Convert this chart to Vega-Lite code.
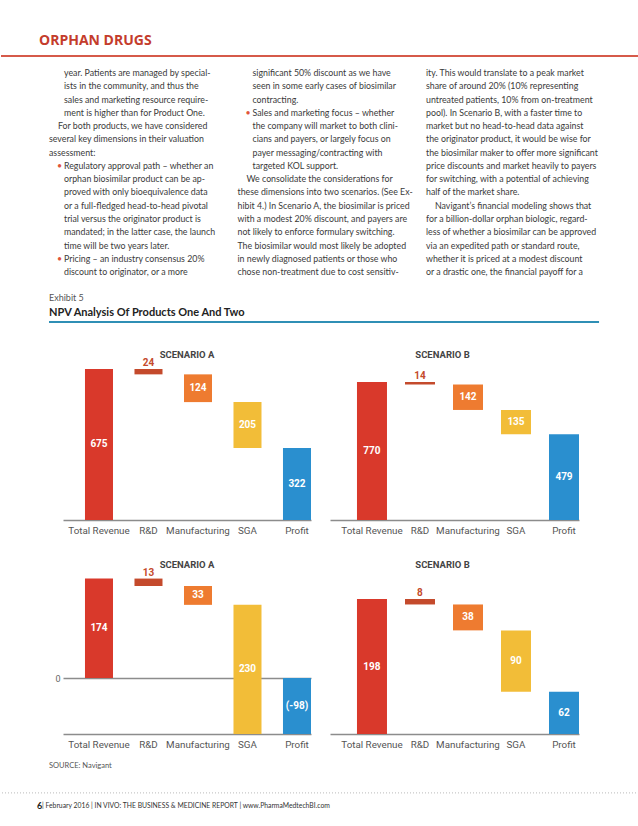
{
  "$schema": "https://vega.github.io/schema/vega-lite/v6.json",
  "padding": 0,
  "background": "white",
  "spacing": 0,
  "config": {
    "view": {"stroke": null},
    "axisX": {"title": null, "ticks": false, "domainColor": "#8c8c8c", "domainWidth": 1.5, "labelColor": "#555555", "labelFont": "Roboto", "labelFontSize": 9.8, "labelPadding": 5, "labelAngle": 0, "grid": false, "offset": -18}
  },
  "datasets": {
    "body": [
      {"c": 0, "l": 1, "k": "b", "u": 0, "t": "year. Patients are managed by special-"},
      {"c": 0, "l": 2, "k": "b", "u": 0, "t": "ists in the community, and thus the"},
      {"c": 0, "l": 3, "k": "b", "u": 0, "t": "sales and marketing resource require-"},
      {"c": 0, "l": 4, "k": "b", "u": 0, "t": "ment is higher than for Product One."},
      {"c": 0, "l": 5, "k": "p", "u": 0, "t": "For both products, we have considered"},
      {"c": 0, "l": 6, "k": "n", "u": 0, "t": "several key dimensions in their valuation"},
      {"c": 0, "l": 7, "k": "n", "u": 0, "t": "assessment:"},
      {"c": 0, "l": 8, "k": "b", "u": 1, "t": "Regulatory approval path – whether an"},
      {"c": 0, "l": 9, "k": "b", "u": 0, "t": "orphan biosimilar product can be ap-"},
      {"c": 0, "l": 10, "k": "b", "u": 0, "t": "proved with only bioequivalence data"},
      {"c": 0, "l": 11, "k": "b", "u": 0, "t": "or a full-fledged head-to-head pivotal"},
      {"c": 0, "l": 12, "k": "b", "u": 0, "t": "trial versus the originator product is"},
      {"c": 0, "l": 13, "k": "b", "u": 0, "t": "mandated; in the latter case, the launch"},
      {"c": 0, "l": 14, "k": "b", "u": 0, "t": "time will be two years later."},
      {"c": 0, "l": 15, "k": "b", "u": 1, "t": "Pricing – an industry consensus 20%"},
      {"c": 0, "l": 16, "k": "b", "u": 0, "t": "discount to originator, or a more"},
      {"c": 1, "l": 1, "k": "b", "u": 0, "t": "significant 50% discount as we have"},
      {"c": 1, "l": 2, "k": "b", "u": 0, "t": "seen in some early cases of biosimilar"},
      {"c": 1, "l": 3, "k": "b", "u": 0, "t": "contracting."},
      {"c": 1, "l": 4, "k": "b", "u": 1, "t": "Sales and marketing focus – whether"},
      {"c": 1, "l": 5, "k": "b", "u": 0, "t": "the company will market to both clini-"},
      {"c": 1, "l": 6, "k": "b", "u": 0, "t": "cians and payers, or largely focus on"},
      {"c": 1, "l": 7, "k": "b", "u": 0, "t": "payer messaging/contracting with"},
      {"c": 1, "l": 8, "k": "b", "u": 0, "t": "targeted KOL support."},
      {"c": 1, "l": 9, "k": "p", "u": 0, "t": "We consolidate the considerations for"},
      {"c": 1, "l": 10, "k": "n", "u": 0, "t": "these dimensions into two scenarios. (See Ex-"},
      {"c": 1, "l": 11, "k": "n", "u": 0, "t": "hibit 4.) In Scenario A, the biosimilar is priced"},
      {"c": 1, "l": 12, "k": "n", "u": 0, "t": "with a modest 20% discount, and payers are"},
      {"c": 1, "l": 13, "k": "n", "u": 0, "t": "not likely to enforce formulary switching."},
      {"c": 1, "l": 14, "k": "n", "u": 0, "t": "The biosimilar would most likely be adopted"},
      {"c": 1, "l": 15, "k": "n", "u": 0, "t": "in newly diagnosed patients or those who"},
      {"c": 1, "l": 16, "k": "n", "u": 0, "t": "chose non-treatment due to cost sensitiv-"},
      {"c": 2, "l": 1, "k": "n", "u": 0, "t": "ity. This would translate to a peak market"},
      {"c": 2, "l": 2, "k": "n", "u": 0, "t": "share of around 20% (10% representing"},
      {"c": 2, "l": 3, "k": "n", "u": 0, "t": "untreated patients, 10% from on-treatment"},
      {"c": 2, "l": 4, "k": "n", "u": 0, "t": "pool). In Scenario B, with a faster time to"},
      {"c": 2, "l": 5, "k": "n", "u": 0, "t": "market but no head-to-head data against"},
      {"c": 2, "l": 6, "k": "n", "u": 0, "t": "the originator product, it would be wise for"},
      {"c": 2, "l": 7, "k": "n", "u": 0, "t": "the biosimilar maker to offer more significant"},
      {"c": 2, "l": 8, "k": "n", "u": 0, "t": "price discounts and market heavily to payers"},
      {"c": 2, "l": 9, "k": "n", "u": 0, "t": "for switching, with a potential of achieving"},
      {"c": 2, "l": 10, "k": "n", "u": 0, "t": "half of the market share."},
      {"c": 2, "l": 11, "k": "p", "u": 0, "t": "Navigant’s financial modeling shows that"},
      {"c": 2, "l": 12, "k": "n", "u": 0, "t": "for a billion-dollar orphan biologic, regard-"},
      {"c": 2, "l": 13, "k": "n", "u": 0, "t": "less of whether a biosimilar can be approved"},
      {"c": 2, "l": 14, "k": "n", "u": 0, "t": "via an expedited path or standard route,"},
      {"c": 2, "l": 15, "k": "n", "u": 0, "t": "whether it is priced at a modest discount"},
      {"c": 2, "l": 16, "k": "n", "u": 0, "t": "or a drastic one, the financial payoff for a"}
    ],
    "bars": [
      {"p": "1A", "cat": "Total Revenue", "lab": "675", "lo": 0, "hi": 675},
      {"p": "1A", "cat": "R&D", "lab": "24", "lo": 651, "hi": 675},
      {"p": "1A", "cat": "Manufacturing", "lab": "124", "lo": 527, "hi": 651},
      {"p": "1A", "cat": "SGA", "lab": "205", "lo": 322, "hi": 527},
      {"p": "1A", "cat": "Profit", "lab": "322", "lo": 0, "hi": 322},
      {"p": "1B", "cat": "Total Revenue", "lab": "770", "lo": 0, "hi": 770},
      {"p": "1B", "cat": "R&D", "lab": "14", "lo": 756, "hi": 770},
      {"p": "1B", "cat": "Manufacturing", "lab": "142", "lo": 614, "hi": 756},
      {"p": "1B", "cat": "SGA", "lab": "135", "lo": 479, "hi": 614},
      {"p": "1B", "cat": "Profit", "lab": "479", "lo": 0, "hi": 479},
      {"p": "2A", "cat": "Total Revenue", "lab": "174", "lo": 0, "hi": 174},
      {"p": "2A", "cat": "R&D", "lab": "13", "lo": 161, "hi": 174},
      {"p": "2A", "cat": "Manufacturing", "lab": "33", "lo": 128, "hi": 161},
      {"p": "2A", "cat": "SGA", "lab": "230", "lo": -98, "hi": 128},
      {"p": "2A", "cat": "Profit", "lab": "(-98)", "lo": -98, "hi": 0},
      {"p": "2B", "cat": "Total Revenue", "lab": "198", "lo": 0, "hi": 198},
      {"p": "2B", "cat": "R&D", "lab": "8", "lo": 190, "hi": 198},
      {"p": "2B", "cat": "Manufacturing", "lab": "38", "lo": 152, "hi": 190},
      {"p": "2B", "cat": "SGA", "lab": "90", "lo": 62, "hi": 152},
      {"p": "2B", "cat": "Profit", "lab": "62", "lo": 0, "hi": 62}
    ]
  },
  "vconcat": [
    {
      "width": 638,
      "height": 330,
      "layer": [
        {
          "data": {"name": "body"},
          "transform": [{"filter": "datum.k === 'n'"}],
          "mark": {"type": "text", "align": "left", "baseline": "middle", "font": "Lato", "fontSize": 8.8, "color": "#3a3a3a"},
          "encoding": {
            "x": {"field": "c", "type": "quantitative", "scale": {"domain": [-0.25464, 3.12997], "nice": false, "zero": false}, "axis": null},
            "y": {"field": "l", "type": "quantitative", "scale": {"domain": [-4.501, 20.367], "reverse": true, "nice": false, "zero": false}, "axis": null},
            "text": {"field": "t"}
          }
        },
        {
          "data": {"name": "body"},
          "transform": [{"filter": "datum.k === 'p'"}],
          "mark": {"type": "text", "align": "left", "baseline": "middle", "font": "Lato", "fontSize": 8.8, "color": "#3a3a3a", "dx": 9},
          "encoding": {
            "x": {"field": "c", "type": "quantitative"},
            "y": {"field": "l", "type": "quantitative"},
            "text": {"field": "t"}
          }
        },
        {
          "data": {"name": "body"},
          "transform": [{"filter": "datum.k === 'b'"}],
          "mark": {"type": "text", "align": "left", "baseline": "middle", "font": "Lato", "fontSize": 8.8, "color": "#3a3a3a", "dx": 15},
          "encoding": {
            "x": {"field": "c", "type": "quantitative"},
            "y": {"field": "l", "type": "quantitative"},
            "text": {"field": "t"}
          }
        },
        {
          "data": {"name": "body"},
          "transform": [{"filter": "datum.u === 1"}],
          "mark": {"type": "text", "align": "left", "baseline": "middle", "font": "Lato", "fontSize": 8.8, "color": "#e0553a", "dx": 8},
          "encoding": {
            "x": {"field": "c", "type": "quantitative"},
            "y": {"field": "l", "type": "quantitative"},
            "text": {"value": "•"}
          }
        },
        {
          "data": {"values": [{"t": "ORPHAN DRUGS"}]},
          "mark": {"type": "text", "align": "left", "baseline": "middle", "font": "Open Sans", "fontWeight": "bold", "fontSize": 14, "color": "#c43c2c", "dx": -10},
          "encoding": {
            "x": {"datum": 0, "type": "quantitative"},
            "y": {"datum": -1.411, "type": "quantitative"},
            "text": {"field": "t"}
          }
        },
        {
          "data": {"values": [{"t": "rule"}]},
          "mark": {"type": "rule", "color": "#d65a4a", "strokeWidth": 2},
          "encoding": {
            "y": {"datum": -0.281, "type": "quantitative"}
          }
        },
        {
          "data": {"values": [{"t": "Exhibit 5"}]},
          "mark": {"type": "text", "align": "left", "baseline": "middle", "font": "Lato", "fontSize": 9, "color": "#555555"},
          "encoding": {
            "x": {"datum": 0, "type": "quantitative"},
            "y": {"datum": 17.955, "type": "quantitative"},
            "text": {"field": "t"}
          }
        },
        {
          "data": {"values": [{"t": "NPV Analysis Of Products One And Two"}]},
          "mark": {"type": "text", "align": "left", "baseline": "middle", "font": "Lato", "fontWeight": "bold", "fontSize": 11, "color": "#222222"},
          "encoding": {
            "x": {"datum": 0, "type": "quantitative"},
            "y": {"datum": 19.086, "type": "quantitative"},
            "text": {"field": "t"}
          }
        },
        {
          "data": {"values": [{"t": "rule"}]},
          "mark": {"type": "rule", "color": "#2f8fb5", "strokeWidth": 2},
          "encoding": {
            "x": {"datum": 0, "type": "quantitative"},
            "x2": {"datum": 2.918},
            "y": {"datum": 19.764, "type": "quantitative"}
          }
        }
      ]
    },
    {
      "bounds": "flush",
      "spacing": 19,
      "hconcat": [
        {"width": 43, "height": 208, "data": {"values": []}, "mark": "text", "encoding": {}},
        {
          "width": 248, "height": 208,
          "layer": [
            {
              "data": {"name": "bars"},
              "transform": [{"filter": "datum.p === '1A'"}],
              "mark": {"type": "bar"},
              "encoding": {
                "x": {"field": "cat", "type": "nominal", "sort": ["Total Revenue", "R&D", "Manufacturing", "SGA", "Profit"], "scale": {"paddingInner": 0.434, "paddingOuter": 0.222, "align": 1}},
                "y": {"field": "lo", "type": "quantitative", "scale": {"domain": [-80.46, 849.3], "nice": false, "zero": false}, "axis": null},
                "y2": {"field": "hi"},
                "color": {"field": "cat", "type": "nominal", "scale": {"domain": ["Total Revenue", "R&D", "Manufacturing", "SGA", "Profit"], "range": ["#d9392b", "#c44a2c", "#ee7b30", "#f2bd38", "#2a8fcf"]}, "legend": null}
              }
            },
            {
              "data": {"name": "bars"},
              "transform": [{"filter": "datum.p === '1A' && datum.cat !== 'R&D'"}, {"fold": ["lo", "hi"], "as": ["k", "v"]}, {"aggregate": [{"op": "mean", "field": "v", "as": "mid"}], "groupby": ["cat", "lab"]}],
              "mark": {"type": "text", "color": "white", "font": "Roboto", "fontWeight": "bold", "fontSize": 10, "baseline": "middle"},
              "encoding": {
                "x": {"field": "cat", "type": "nominal", "sort": ["Total Revenue", "R&D", "Manufacturing", "SGA", "Profit"]},
                "y": {"field": "mid", "type": "quantitative"},
                "text": {"field": "lab"}
              }
            },
            {
              "data": {"name": "bars"},
              "transform": [{"filter": "datum.p === '1A' && datum.cat === 'R&D'"}],
              "mark": {"type": "text", "color": "#c44a2c", "font": "Roboto", "fontWeight": "bold", "fontSize": 10, "baseline": "bottom", "dy": -1},
              "encoding": {
                "x": {"field": "cat", "type": "nominal", "sort": ["Total Revenue", "R&D", "Manufacturing", "SGA", "Profit"]},
                "y": {"field": "hi", "type": "quantitative"},
                "text": {"field": "lab"}
              }
            },
            {
              "data": {"values": [{"t": "SCENARIO A"}]},
              "mark": {"type": "text", "color": "#444444", "font": "Roboto", "fontWeight": "bold", "fontSize": 9.5, "baseline": "middle"},
              "encoding": {
                "y": {"datum": 737.6, "type": "quantitative"},
                "text": {"field": "t"}
              }
            }
          ]
        },
        {
          "width": 249, "height": 208,
          "layer": [
            {
              "data": {"name": "bars"},
              "transform": [{"filter": "datum.p === '1B'"}],
              "mark": {"type": "bar"},
              "encoding": {
                "x": {"field": "cat", "type": "nominal", "sort": ["Total Revenue", "R&D", "Manufacturing", "SGA", "Profit"], "scale": {"paddingInner": 0.375, "paddingOuter": 0.281, "align": 1}},
                "y": {"field": "lo", "type": "quantitative", "scale": {"domain": [-100.44, 1060.1], "nice": false, "zero": false}, "axis": null},
                "y2": {"field": "hi"},
                "color": {"field": "cat", "type": "nominal", "scale": {"domain": ["Total Revenue", "R&D", "Manufacturing", "SGA", "Profit"], "range": ["#d9392b", "#c44a2c", "#ee7b30", "#f2bd38", "#2a8fcf"]}, "legend": null}
              }
            },
            {
              "data": {"name": "bars"},
              "transform": [{"filter": "datum.p === '1B' && datum.cat !== 'R&D'"}, {"fold": ["lo", "hi"], "as": ["k", "v"]}, {"aggregate": [{"op": "mean", "field": "v", "as": "mid"}], "groupby": ["cat", "lab"]}],
              "mark": {"type": "text", "color": "white", "font": "Roboto", "fontWeight": "bold", "fontSize": 10, "baseline": "middle"},
              "encoding": {
                "x": {"field": "cat", "type": "nominal", "sort": ["Total Revenue", "R&D", "Manufacturing", "SGA", "Profit"]},
                "y": {"field": "mid", "type": "quantitative"},
                "text": {"field": "lab"}
              }
            },
            {
              "data": {"name": "bars"},
              "transform": [{"filter": "datum.p === '1B' && datum.cat === 'R&D'"}],
              "mark": {"type": "text", "color": "#c44a2c", "font": "Roboto", "fontWeight": "bold", "fontSize": 10, "baseline": "bottom", "dy": -1},
              "encoding": {
                "x": {"field": "cat", "type": "nominal", "sort": ["Total Revenue", "R&D", "Manufacturing", "SGA", "Profit"]},
                "y": {"field": "hi", "type": "quantitative"},
                "text": {"field": "lab"}
              }
            },
            {
              "data": {"values": [{"t": "SCENARIO B"}]},
              "mark": {"type": "text", "color": "#444444", "font": "Roboto", "fontWeight": "bold", "fontSize": 9.5, "baseline": "middle", "dx": -12},
              "encoding": {
                "y": {"datum": 920.7, "type": "quantitative"},
                "text": {"field": "t"}
              }
            }
          ]
        }
      ]
    },
    {
      "bounds": "flush",
      "spacing": 19,
      "hconcat": [
        {"width": 43, "height": 214, "data": {"values": []}, "mark": "text", "encoding": {}},
        {
          "width": 248, "height": 214,
          "layer": [
            {
              "data": {"name": "bars"},
              "transform": [{"filter": "datum.p === '2A'"}],
              "mark": {"type": "bar"},
              "encoding": {
                "x": {"field": "cat", "type": "nominal", "sort": ["Total Revenue", "R&D", "Manufacturing", "SGA", "Profit"], "scale": {"paddingInner": 0.434, "paddingOuter": 0.222, "align": 1}},
                "y": {"field": "lo", "type": "quantitative", "scale": {"domain": [-129.5, 245], "nice": false, "zero": false}, "axis": {"values": [0], "title": null, "grid": true, "gridColor": "#8c8c8c", "gridWidth": 1.5, "domain": false, "ticks": false, "labelPadding": 3, "labelColor": "#666666", "labelFont": "Roboto", "labelFontSize": 9}},
                "y2": {"field": "hi"},
                "color": {"field": "cat", "type": "nominal", "scale": {"domain": ["Total Revenue", "R&D", "Manufacturing", "SGA", "Profit"], "range": ["#d9392b", "#c44a2c", "#ee7b30", "#f2bd38", "#2a8fcf"]}, "legend": null}
              }
            },
            {
              "data": {"name": "bars"},
              "transform": [{"filter": "datum.p === '2A' && datum.cat !== 'R&D'"}, {"fold": ["lo", "hi"], "as": ["k", "v"]}, {"aggregate": [{"op": "mean", "field": "v", "as": "mid"}], "groupby": ["cat", "lab"]}],
              "mark": {"type": "text", "color": "white", "font": "Roboto", "fontWeight": "bold", "fontSize": 10, "baseline": "middle"},
              "encoding": {
                "x": {"field": "cat", "type": "nominal", "sort": ["Total Revenue", "R&D", "Manufacturing", "SGA", "Profit"]},
                "y": {"field": "mid", "type": "quantitative"},
                "text": {"field": "lab"}
              }
            },
            {
              "data": {"name": "bars"},
              "transform": [{"filter": "datum.p === '2A' && datum.cat === 'R&D'"}],
              "mark": {"type": "text", "color": "#c44a2c", "font": "Roboto", "fontWeight": "bold", "fontSize": 10, "baseline": "bottom", "dy": -1},
              "encoding": {
                "x": {"field": "cat", "type": "nominal", "sort": ["Total Revenue", "R&D", "Manufacturing", "SGA", "Profit"]},
                "y": {"field": "hi", "type": "quantitative"},
                "text": {"field": "lab"}
              }
            },
            {
              "data": {"values": [{"t": "SCENARIO A"}]},
              "mark": {"type": "text", "color": "#444444", "font": "Roboto", "fontWeight": "bold", "fontSize": 9.5, "baseline": "middle"},
              "encoding": {
                "y": {"datum": 197.8, "type": "quantitative"},
                "text": {"field": "t"}
              }
            }
          ]
        },
        {
          "width": 249, "height": 214,
          "layer": [
            {
              "data": {"name": "bars"},
              "transform": [{"filter": "datum.p === '2B'"}],
              "mark": {"type": "bar"},
              "encoding": {
                "x": {"field": "cat", "type": "nominal", "sort": ["Total Revenue", "R&D", "Manufacturing", "SGA", "Profit"], "scale": {"paddingInner": 0.375, "paddingOuter": 0.281, "align": 1}},
                "y": {"field": "lo", "type": "quantitative", "scale": {"domain": [-26.4, 287.5], "nice": false, "zero": false}, "axis": null},
                "y2": {"field": "hi"},
                "color": {"field": "cat", "type": "nominal", "scale": {"domain": ["Total Revenue", "R&D", "Manufacturing", "SGA", "Profit"], "range": ["#d9392b", "#c44a2c", "#ee7b30", "#f2bd38", "#2a8fcf"]}, "legend": null}
              }
            },
            {
              "data": {"name": "bars"},
              "transform": [{"filter": "datum.p === '2B' && datum.cat !== 'R&D'"}, {"fold": ["lo", "hi"], "as": ["k", "v"]}, {"aggregate": [{"op": "mean", "field": "v", "as": "mid"}], "groupby": ["cat", "lab"]}],
              "mark": {"type": "text", "color": "white", "font": "Roboto", "fontWeight": "bold", "fontSize": 10, "baseline": "middle"},
              "encoding": {
                "x": {"field": "cat", "type": "nominal", "sort": ["Total Revenue", "R&D", "Manufacturing", "SGA", "Profit"]},
                "y": {"field": "mid", "type": "quantitative"},
                "text": {"field": "lab"}
              }
            },
            {
              "data": {"name": "bars"},
              "transform": [{"filter": "datum.p === '2B' && datum.cat === 'R&D'"}],
              "mark": {"type": "text", "color": "#c44a2c", "font": "Roboto", "fontWeight": "bold", "fontSize": 10, "baseline": "bottom", "dy": -1},
              "encoding": {
                "x": {"field": "cat", "type": "nominal", "sort": ["Total Revenue", "R&D", "Manufacturing", "SGA", "Profit"]},
                "y": {"field": "hi", "type": "quantitative"},
                "text": {"field": "lab"}
              }
            },
            {
              "data": {"values": [{"t": "SCENARIO B"}]},
              "mark": {"type": "text", "color": "#444444", "font": "Roboto", "fontWeight": "bold", "fontSize": 9.5, "baseline": "middle", "dx": -12},
              "encoding": {
                "y": {"datum": 247.9, "type": "quantitative"},
                "text": {"field": "t"}
              }
            }
          ]
        }
      ]
    },
    {
      "width": 638,
      "height": 74,
      "layer": [
        {
          "data": {"values": [{"t": "SOURCE: Navigant"}]},
          "mark": {"type": "text", "align": "left", "baseline": "middle", "font": "Lato", "fontSize": 7.5, "color": "#555555"},
          "encoding": {
            "x": {"datum": 0, "type": "quantitative", "scale": {"domain": [-0.25464, 3.12997], "nice": false, "zero": false}, "axis": null},
            "y": {"datum": 53.22, "type": "quantitative", "scale": {"domain": [52.168, 57.745], "reverse": true, "nice": false, "zero": false}, "axis": null},
            "text": {"field": "t"}
          }
        },
        {
          "data": {"values": [{"t": "rule"}]},
          "mark": {"type": "rule", "color": "#bbbbbb", "strokeWidth": 1, "strokeDash": [1, 2]},
          "encoding": {
            "y": {"datum": 55.25, "type": "quantitative"}
          }
        },
        {
          "data": {"values": [{"t": "6"}]},
          "mark": {"type": "text", "align": "left", "baseline": "middle", "font": "Lato", "fontWeight": "bold", "fontSize": 9, "color": "#222222", "dx": -12},
          "encoding": {
            "x": {"datum": 0, "type": "quantitative"},
            "y": {"datum": 56.23, "type": "quantitative"},
            "text": {"field": "t"}
          }
        },
        {
          "data": {"values": [{"t": "| February 2016  |  IN VIVO: THE BUSINESS & MEDICINE REPORT  |  www.PharmaMedtechBI.com"}]},
          "mark": {"type": "text", "align": "left", "baseline": "middle", "font": "Lato", "fontSize": 6.8, "color": "#333333", "dx": -7},
          "encoding": {
            "x": {"datum": 0, "type": "quantitative"},
            "y": {"datum": 56.23, "type": "quantitative"},
            "text": {"field": "t"}
          }
        }
      ]
    }
  ]
}
